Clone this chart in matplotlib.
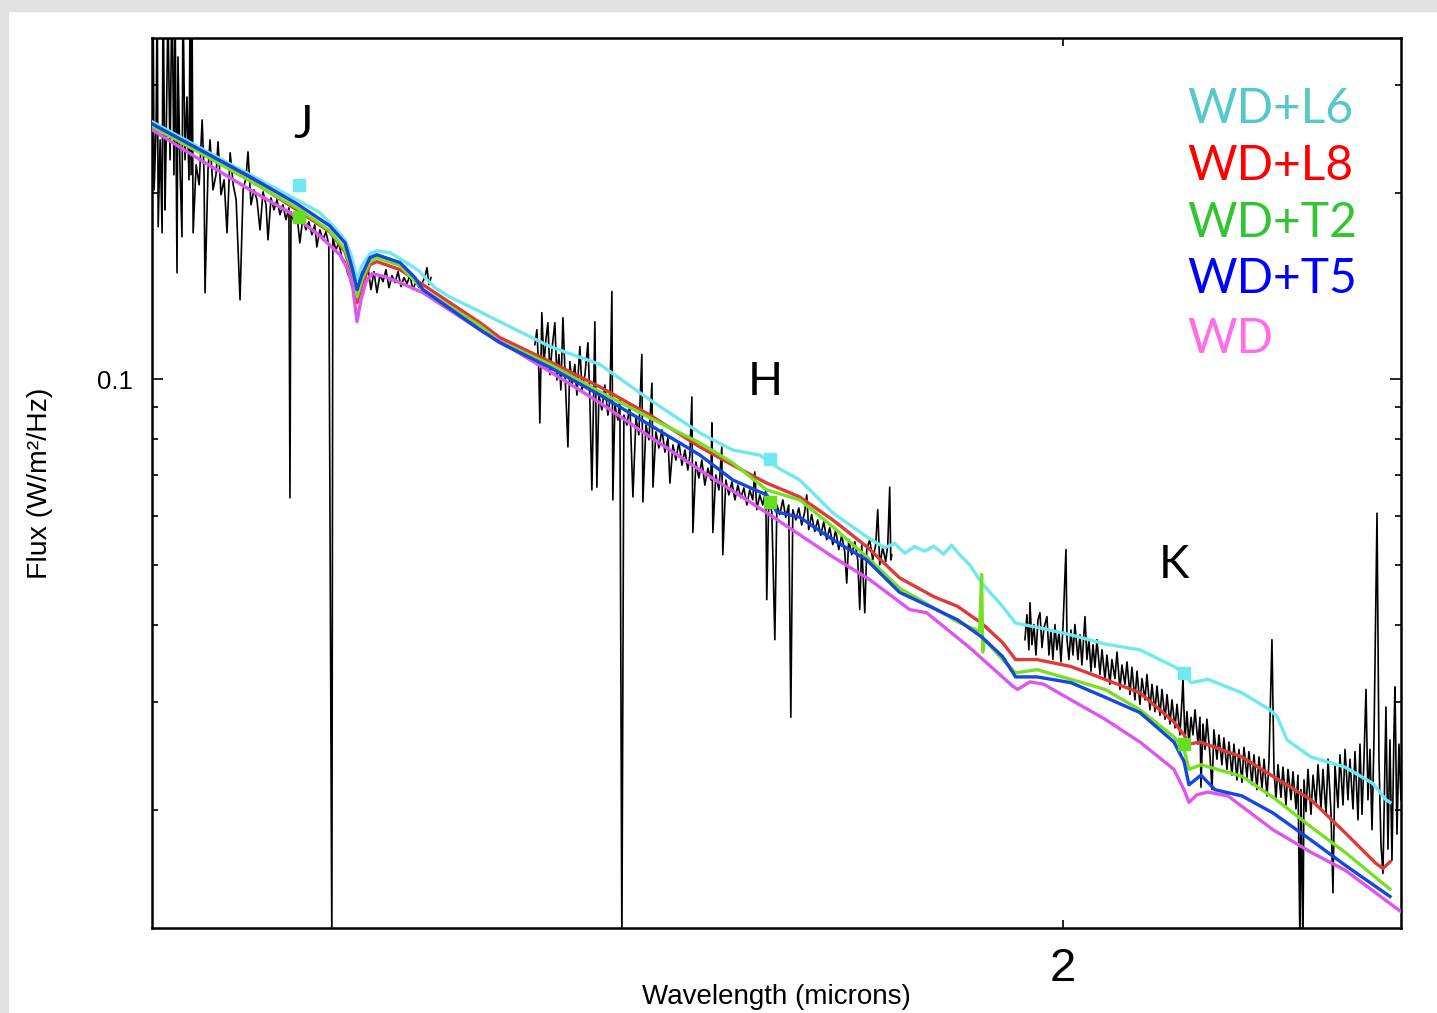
import matplotlib
matplotlib.use('Agg')
import matplotlib.pyplot as plt
from matplotlib.ticker import FixedLocator, NullLocator, NullFormatter
from matplotlib.patches import Rectangle

plt.rcParams['font.family'] = ['Liberation Sans', 'DejaVu Sans']
plt.rcParams['axes.linewidth'] = 1.8

# Observed spectrum, three pieces (J, H, K), wavelength in microns, flux in W/m^2/Hz (scaled)
obs_j_wave = [
    1.1254, 1.1261, 1.1268, 1.1282, 1.1290, 1.1297, 1.1311, 1.1325, 1.1332, 1.1346,
    1.1353, 1.1367, 1.1382, 1.1396, 1.1410, 1.1418, 1.1432, 1.1439, 1.1454, 1.1468,
    1.1475, 1.1490, 1.1504, 1.1519, 1.1527, 1.1534, 1.1541, 1.1549, 1.1571, 1.1593,
    1.1615, 1.1629, 1.1636, 1.1658, 1.1673, 1.1695, 1.1717, 1.1732, 1.1754, 1.1777,
    1.1799, 1.1822, 1.1845, 1.1867, 1.1896, 1.1919, 1.1941, 1.1956, 1.1979, 1.2001,
    1.2024, 1.2047, 1.2070, 1.2093, 1.2108, 1.2131, 1.2154, 1.2177, 1.2200, 1.2223,
    1.2246, 1.2269, 1.2277, 1.2285, 1.2308, 1.2331, 1.2354, 1.2377, 1.2401, 1.2424,
    1.2448, 1.2471, 1.2487, 1.2511, 1.2535, 1.2559, 1.2582, 1.2606, 1.2614, 1.2638,
    1.2662, 1.2686, 1.2711, 1.2735, 1.2759, 1.2792, 1.2824, 1.2848, 1.2873, 1.2897,
    1.2921, 1.2946, 1.2970, 1.2995, 1.3020, 1.3044, 1.3069, 1.3094, 1.3119, 1.3144,
    1.3168, 1.3193, 1.3218, 1.3243, 1.3268, 1.3293, 1.3319, 1.3344, 1.3369, 1.3386,
    1.3403, 1.3420]
obs_j_flux = [
    0.2352, 0.42, 0.2026, 0.2534, 0.42, 0.1765, 0.2441, 0.1726, 0.45, 0.1880,
    0.2352, 0.40, 0.2266, 0.44, 0.2143, 0.41, 0.1487, 0.3326, 0.2183, 0.1700,
    0.43, 0.2266, 0.2865, 0.2103, 0.42, 0.2143, 0.40, 0.1726, 0.2224, 0.2064,
    0.2630, 0.2143, 0.1380, 0.2183, 0.2441, 0.2026, 0.2143, 0.2423, 0.1989, 0.2103,
    0.1726, 0.2326, 0.2064, 0.1952, 0.1344, 0.2026, 0.2119, 0.2334, 0.1916, 0.2026,
    0.1952, 0.1745, 0.2011, 0.1916, 0.1681, 0.1966, 0.1880, 0.1952, 0.1846, 0.1916,
    0.1812, 0.1894, 0.0642, 0.1866, 0.1798, 0.1846, 0.1662, 0.1825, 0.1745, 0.1798,
    0.1713, 0.1778, 0.1637, 0.1745, 0.1681, 0.1732, 0.1650, 0.0120, 0.1694, 0.1620,
    0.1662, 0.1573, 0.1550, 0.1476, 0.1476, 0.1396, 0.1422, 0.1493, 0.1449, 0.1515,
    0.1396, 0.1493, 0.1380, 0.1476, 0.1438, 0.1504, 0.1406, 0.1471, 0.1433, 0.1493,
    0.1412, 0.1460, 0.1428, 0.1471, 0.1396, 0.1438, 0.1406, 0.1428, 0.1465, 0.1515,
    0.1422, 0.1460]

obs_h_wave = [
    1.4330, 1.4348, 1.4366, 1.4375, 1.4393, 1.4412, 1.4430, 1.4448, 1.4467, 1.4485,
    1.4512, 1.4531, 1.4549, 1.4567, 1.4586, 1.4604, 1.4632, 1.4650, 1.4669, 1.4696,
    1.4715, 1.4743, 1.4762, 1.4790, 1.4818, 1.4836, 1.4855, 1.4874, 1.4883, 1.4902,
    1.4921, 1.4949, 1.4977, 1.5006, 1.5025, 1.5044, 1.5053, 1.5072, 1.5101, 1.5120,
    1.5139, 1.5158, 1.5187, 1.5216, 1.5245, 1.5274, 1.5302, 1.5331, 1.5341, 1.5371,
    1.5400, 1.5429, 1.5439, 1.5468, 1.5497, 1.5527, 1.5556, 1.5586, 1.5605, 1.5635,
    1.5664, 1.5694, 1.5724, 1.5754, 1.5783, 1.5803, 1.5823, 1.5833, 1.5863, 1.5893,
    1.5923, 1.5953, 1.5984, 1.6014, 1.6024, 1.6034, 1.6064, 1.6095, 1.6125, 1.6135,
    1.6166, 1.6197, 1.6228, 1.6259, 1.6289, 1.6320, 1.6351, 1.6382, 1.6412, 1.6443,
    1.6464, 1.6485, 1.6516, 1.6547, 1.6579, 1.6589, 1.6610, 1.6642, 1.6674, 1.6695,
    1.6726, 1.6758, 1.6789, 1.6821, 1.6843, 1.6864, 1.6896, 1.6928, 1.6959, 1.6991,
    1.7013, 1.7034, 1.7066, 1.7099, 1.7131, 1.7164, 1.7197, 1.7229, 1.7262, 1.7295,
    1.7327, 1.7360, 1.7393, 1.7426, 1.7448, 1.7470, 1.7503, 1.7537, 1.7570, 1.7592,
    1.7614, 1.7648, 1.7670, 1.7703, 1.7737, 1.7770, 1.7793, 1.7815, 1.7849, 1.7883,
    1.7906, 1.7928, 1.7940, 1.7951]
obs_h_flux = [
    0.1137, 0.1202, 0.1028, 0.0849, 0.1281, 0.1056, 0.1158, 0.1234, 0.1016, 0.1116,
    0.1234, 0.0996, 0.1096, 0.0960, 0.1257, 0.1036, 0.0776, 0.1067, 0.0978, 0.1056,
    0.0942, 0.1129, 0.0960, 0.1016, 0.1145, 0.0925, 0.0661, 0.0996, 0.1238, 0.0668,
    0.0942, 0.0891, 0.0978, 0.0874, 0.0925, 0.1386, 0.0637, 0.0908, 0.0858, 0.0925,
    0.0120, 0.0874, 0.0842, 0.0908, 0.0644, 0.0865, 0.0812, 0.1096, 0.0632, 0.0842,
    0.0797, 0.0985, 0.0668, 0.0821, 0.0773, 0.0827, 0.0761, 0.0803, 0.0678, 0.0782,
    0.0739, 0.0791, 0.0725, 0.0767, 0.0712, 0.0753, 0.0935, 0.0564, 0.0734, 0.0691,
    0.0739, 0.0673, 0.0717, 0.0686, 0.0849, 0.0564, 0.0699, 0.0661, 0.0776, 0.0519,
    0.0686, 0.0649, 0.0681, 0.0637, 0.0673, 0.0642, 0.0666, 0.0625, 0.0661, 0.0637,
    0.0707, 0.0614, 0.0649, 0.0625, 0.0661, 0.0439, 0.0637, 0.0609, 0.0378, 0.0625,
    0.0603, 0.0637, 0.0597, 0.0625, 0.0283, 0.0614, 0.0591, 0.0618, 0.0580, 0.0609,
    0.0649, 0.0570, 0.0603, 0.0566, 0.0591, 0.0558, 0.0587, 0.0549, 0.0574, 0.0539,
    0.0570, 0.0529, 0.0558, 0.0525, 0.0467, 0.0549, 0.0519, 0.0545, 0.0509, 0.0423,
    0.0539, 0.0418, 0.0529, 0.0549, 0.0509, 0.0539, 0.0614, 0.0500, 0.0533, 0.0506,
    0.0539, 0.0668, 0.0509, 0.0519]

obs_k_wave = [
    1.9526, 1.9550, 1.9575, 1.9588, 1.9612, 1.9637, 1.9662, 1.9687, 1.9712, 1.9737,
    1.9762, 1.9799, 1.9824, 1.9849, 1.9874, 1.9899, 1.9924, 1.9950, 1.9975, 2.0000,
    2.0038, 2.0051, 2.0076, 2.0101, 2.0127, 2.0152, 2.0190, 2.0216, 2.0241, 2.0280,
    2.0305, 2.0331, 2.0357, 2.0383, 2.0408, 2.0434, 2.0473, 2.0499, 2.0538, 2.0563,
    2.0602, 2.0628, 2.0667, 2.0694, 2.0733, 2.0759, 2.0798, 2.0825, 2.0864, 2.0890,
    2.0930, 2.0957, 2.0996, 2.1023, 2.1063, 2.1089, 2.1129, 2.1156, 2.1196, 2.1223,
    2.1263, 2.1290, 2.1331, 2.1358, 2.1398, 2.1425, 2.1466, 2.1493, 2.1533, 2.1561,
    2.1574, 2.1602, 2.1629, 2.1656, 2.1684, 2.1711, 2.1739, 2.1780, 2.1807, 2.1821,
    2.1848, 2.1876, 2.1903, 2.1945, 2.1973, 2.2000, 2.2042, 2.2070, 2.2111, 2.2139,
    2.2182, 2.2210, 2.2252, 2.2280, 2.2322, 2.2350, 2.2393, 2.2421, 2.2464, 2.2492,
    2.2535, 2.2563, 2.2606, 2.2635, 2.2678, 2.2707, 2.2750, 2.2778, 2.2821, 2.2850,
    2.2879, 2.2908, 2.2951, 2.2980, 2.3024, 2.3053, 2.3097, 2.3126, 2.3170, 2.3199,
    2.3228, 2.3243, 2.3272, 2.3287, 2.3316, 2.3346, 2.3390, 2.3420, 2.3464, 2.3494,
    2.3538, 2.3568, 2.3613, 2.3643, 2.3687, 2.3717, 2.3747, 2.3792, 2.3822, 2.3868,
    2.3898, 2.3943, 2.3973, 2.4019, 2.4049, 2.4095, 2.4125, 2.4156, 2.4186, 2.4217,
    2.4247, 2.4278, 2.4309, 2.4339, 2.4386, 2.4416, 2.4447, 2.4478, 2.4509, 2.4524,
    2.4555, 2.4586, 2.4617, 2.4649, 2.4664, 2.4695, 2.4726, 2.4758]
obs_k_flux = [
    0.0378, 0.0415, 0.0364, 0.0434, 0.0371, 0.0400, 0.0357, 0.0407, 0.0418, 0.0367,
    0.0395, 0.0412, 0.0357, 0.0392, 0.0351, 0.0400, 0.0364, 0.0389, 0.0348, 0.0395,
    0.0529, 0.0378, 0.0351, 0.0392, 0.0357, 0.0400, 0.0351, 0.0385, 0.0344, 0.0412,
    0.0351, 0.0378, 0.0336, 0.0371, 0.0341, 0.0378, 0.0332, 0.0364, 0.0326, 0.0357,
    0.0320, 0.0351, 0.0327, 0.0361, 0.0314, 0.0344, 0.0320, 0.0348, 0.0308, 0.0341,
    0.0302, 0.0336, 0.0297, 0.0327, 0.0302, 0.0332, 0.0291, 0.0320, 0.0289, 0.0318,
    0.0285, 0.0314, 0.0281, 0.0308, 0.0276, 0.0302, 0.0272, 0.0297, 0.0265, 0.0302,
    0.0326, 0.0260, 0.0289, 0.0256, 0.0283, 0.0265, 0.0291, 0.0256, 0.0283, 0.0218,
    0.0276, 0.0251, 0.0281, 0.0246, 0.0216, 0.0270, 0.0242, 0.0265, 0.0237, 0.0262,
    0.0233, 0.0258, 0.0228, 0.0256, 0.0224, 0.0251, 0.0222, 0.0253, 0.0226, 0.0249,
    0.0220, 0.0246, 0.0216, 0.0244, 0.0217, 0.0242, 0.0211, 0.0240, 0.0378, 0.0233,
    0.0208, 0.0237, 0.0210, 0.0235, 0.0204, 0.0233, 0.0208, 0.0231, 0.0201, 0.0228,
    0.0120, 0.0216, 0.0120, 0.0224, 0.0199, 0.0233, 0.0197, 0.0228, 0.0204, 0.0237,
    0.0201, 0.0233, 0.0197, 0.0242, 0.0199, 0.0147, 0.0237, 0.0202, 0.0246, 0.0204,
    0.0251, 0.0208, 0.0242, 0.0201, 0.0249, 0.0193, 0.0256, 0.0197, 0.0242, 0.0314,
    0.0208, 0.0251, 0.0186, 0.0260, 0.0606, 0.0242, 0.0176, 0.0158, 0.0242, 0.0294,
    0.0173, 0.0260, 0.0166, 0.0270, 0.0317, 0.0183, 0.0256, 0.0208]

# Model spectra
wd_wave = [1.1254, 1.1600, 1.1971, 1.2277, 1.2511, 1.2670, 1.2735, 1.2776, 1.2808, 1.2840,
           1.2881, 1.2930, 1.3036, 1.3160, 1.3352, 1.3841, 1.4467, 1.4930, 1.5410, 1.5903,
           1.6589, 1.7295, 1.7703, 1.8155, 1.8351, 1.8856, 1.9374, 1.9436, 1.9588, 1.9762,
           2.0101, 2.0538, 2.0996, 2.1452, 2.1588, 2.1656, 2.1766, 2.1917, 2.2196, 2.2836,
           2.3390, 2.3898, 2.4758]
wd_flux = [0.2534, 0.2266, 0.2026, 0.1860, 0.1706, 0.1590, 0.1504, 0.1396, 0.1239, 0.1344,
           0.1438, 0.1482, 0.1465, 0.1433, 0.1380, 0.1202, 0.1028, 0.0915, 0.0806, 0.0712,
           0.0607, 0.0515, 0.0473, 0.0423, 0.0418, 0.0367, 0.0318, 0.0314, 0.0323, 0.0320,
           0.0302, 0.0281, 0.0258, 0.0233, 0.0216, 0.0206, 0.0212, 0.0214, 0.0211, 0.0186,
           0.0171, 0.0160, 0.0137]

l6_wave = [1.1254, 1.1600, 1.1971, 1.2331, 1.2511, 1.2630, 1.2711, 1.2768, 1.2808, 1.2848,
           1.2913, 1.2970, 1.3077, 1.3201, 1.3327, 1.3386, 1.3454, 1.3581, 1.3841, 1.4017,
           1.4467, 1.4930, 1.5410, 1.5903, 1.6238, 1.6516, 1.6621, 1.6726, 1.6938, 1.7295,
           1.7670, 1.7871, 1.7985, 1.8098, 1.8212, 1.8328, 1.8432, 1.8549, 1.8643, 1.8714,
           1.8856, 1.8999, 1.9252, 1.9411, 1.9675, 2.0101, 2.0538, 2.0996, 2.1452, 2.1588,
           2.1684, 2.1917, 2.2393, 2.2792, 2.2894, 2.3039, 2.3390, 2.3898, 2.4324, 2.4524,
           2.4586]
l6_flux = [0.2611, 0.2369, 0.2143, 0.1952, 0.1860, 0.1758, 0.1681, 0.1573, 0.1449, 0.1527,
           0.1596, 0.1614, 0.1602, 0.1550, 0.1493, 0.1449, 0.1406, 0.1358, 0.1286, 0.1238,
           0.1129, 0.1056, 0.0925, 0.0818, 0.0767, 0.0753, 0.0733, 0.0715, 0.0686, 0.0607,
           0.0555, 0.0533, 0.0541, 0.0522, 0.0535, 0.0526, 0.0536, 0.0520, 0.0538, 0.0523,
           0.0500, 0.0467, 0.0428, 0.0402, 0.0396, 0.0385, 0.0372, 0.0364, 0.0342, 0.0334,
           0.0322, 0.0326, 0.0310, 0.0291, 0.0284, 0.0260, 0.0244, 0.0235, 0.0221, 0.0208,
           0.0206]

l8_wave = [1.1254, 1.1600, 1.1971, 1.2331, 1.2590, 1.2711, 1.2768, 1.2808, 1.2848, 1.2913,
           1.2970, 1.3160, 1.3352, 1.3841, 1.4017, 1.4467, 1.4930, 1.5410, 1.5903, 1.6238,
           1.6589, 1.6938, 1.7295, 1.7670, 1.8041, 1.8432, 1.8714, 1.8999, 1.9252, 1.9411,
           1.9675, 2.0101, 2.0538, 2.0996, 2.1452, 2.1588, 2.1656, 2.1807, 2.2393, 2.2836,
           2.3390, 2.3898, 2.4370, 2.4478, 2.4586]
l8_flux = [0.2572, 0.2334, 0.2103, 0.1880, 0.1732, 0.1608, 0.1476, 0.1329, 0.1422, 0.1532,
           0.1550, 0.1504, 0.1422, 0.1234, 0.1167, 0.1067, 0.0971, 0.0874, 0.0776, 0.0725,
           0.0678, 0.0644, 0.0591, 0.0535, 0.0476, 0.0444, 0.0428, 0.0402, 0.0374, 0.0351,
           0.0351, 0.0342, 0.0326, 0.0310, 0.0278, 0.0265, 0.0256, 0.0258, 0.0244, 0.0227,
           0.0208, 0.0184, 0.0164, 0.0161, 0.0165]

t2_wave = [1.1254, 1.1600, 1.1971, 1.2331, 1.2590, 1.2711, 1.2768, 1.2808, 1.2848, 1.2913,
           1.2970, 1.3160, 1.3352, 1.3841, 1.4017, 1.4467, 1.4930, 1.5410, 1.5903, 1.6238,
           1.6589, 1.6938, 1.7295, 1.7670, 1.8041, 1.8432, 1.8714, 1.8975, 1.8999, 1.9012,
           1.9036, 1.9252, 1.9411, 1.9675, 2.0101, 2.0538, 2.0996, 2.1452, 2.1588, 2.1656,
           2.1821, 2.2393, 2.2836, 2.3390, 2.3898, 2.4586]
t2_flux = [0.2563, 0.2326, 0.2095, 0.1894, 0.1739, 0.1620, 0.1504, 0.1359, 0.1449, 0.1550,
           0.1573, 0.1527, 0.1396, 0.1220, 0.1150, 0.1056, 0.0953, 0.0865, 0.0788, 0.0731,
           0.0661, 0.0637, 0.0576, 0.0515, 0.0458, 0.0426, 0.0404, 0.0390, 0.0482, 0.0361,
           0.0378, 0.0351, 0.0334, 0.0338, 0.0326, 0.0314, 0.0291, 0.0263, 0.0251, 0.0233,
           0.0237, 0.0227, 0.0210, 0.0188, 0.0171, 0.0149]

t5_wave = [1.1254, 1.1600, 1.1971, 1.2331, 1.2590, 1.2711, 1.2768, 1.2808, 1.2848, 1.2913,
           1.2970, 1.3160, 1.3285, 1.3352, 1.3841, 1.4017, 1.4467, 1.4930, 1.5410, 1.5903,
           1.6238, 1.6516, 1.6589, 1.6695, 1.6938, 1.7295, 1.7670, 1.8041, 1.8432, 1.8714,
           1.8999, 1.9252, 1.9411, 1.9675, 2.0101, 2.0538, 2.0996, 2.1452, 2.1588, 2.1656,
           2.1821, 2.2014, 2.2393, 2.2836, 2.3390, 2.3898, 2.4586]
t5_flux = [0.2591, 0.2352, 0.2127, 0.1923, 0.1771, 0.1662, 0.1515, 0.1396, 0.1476, 0.1573,
           0.1590, 0.1544, 0.1460, 0.1396, 0.1202, 0.1145, 0.1044, 0.0942, 0.0842, 0.0753,
           0.0686, 0.0656, 0.0649, 0.0609, 0.0597, 0.0549, 0.0509, 0.0451, 0.0425, 0.0407,
           0.0382, 0.0355, 0.0329, 0.0329, 0.0322, 0.0305, 0.0288, 0.0258, 0.0240, 0.0220,
           0.0228, 0.0216, 0.0211, 0.0198, 0.0179, 0.0163, 0.0145]

# JHK photometry
phot_wave = [1.235, 1.662, 2.159]
phot_l6 = [0.2064, 0.0742, 0.0334]
phot_t2 = [0.1832, 0.0632, 0.0256]

band_names = ['J', 'H', 'K']
legend_names = ['WD+L6', 'WD+L8', 'WD+T2', 'WD+T5', 'WD']
legend_colors = ['#55c8c8', '#ff0000', '#33c433', '#0000ff', '#ff6ee6']

fig = plt.figure(figsize=(14.37, 10.13), dpi=100)
fig.patches.append(Rectangle((0, 1 - 11 / 1013), 1, 11 / 1013, transform=fig.transFigure,
                             color='#e2e2e2', zorder=0))
fig.patches.append(Rectangle((0, 0), 8 / 1437, 1, transform=fig.transFigure,
                             color='#e2e2e2', zorder=0))
ax = fig.add_axes([152 / 1437, 1 - 928 / 1013, 1249 / 1437, 890 / 1013])

for w, f in [(obs_j_wave, obs_j_flux), (obs_h_wave, obs_h_flux), (obs_k_wave, obs_k_flux)]:
    ax.plot(w, f, color='black', lw=1.2, zorder=2)

ax.plot(l6_wave, l6_flux, color='#6fe9ef', lw=2.4, zorder=3)
ax.plot(l8_wave, l8_flux, color='#dd3b36', lw=2.4, zorder=3)
ax.plot(t2_wave, t2_flux, color='#77e022', lw=2.4, zorder=3)
ax.plot(t5_wave, t5_flux, color='#1446e0', lw=2.4, zorder=4)
ax.plot(wd_wave, wd_flux, color='#dd55ee', lw=2.4, zorder=3)

ax.plot(phot_wave, phot_l6, 's', color='#6fe9ef', ms=9, zorder=5)
ax.plot(phot_wave, phot_t2, 's', color='#66dd22', ms=9, zorder=5)

ax.set_xscale('log')
ax.set_yscale('log')
ax.set_xlim(1.1253, 2.4758)
ax.set_ylim(0.01289, 0.357)

ax.xaxis.set_major_locator(FixedLocator([2]))
ax.xaxis.set_major_formatter(plt.FixedFormatter(['2']))
ax.xaxis.set_minor_locator(NullLocator())
ax.yaxis.set_major_locator(FixedLocator([0.1]))
ax.yaxis.set_major_formatter(plt.FixedFormatter(['0.1']))
ax.yaxis.set_minor_locator(FixedLocator([0.02, 0.03, 0.04, 0.05, 0.06, 0.07, 0.08, 0.09, 0.2, 0.3]))
ax.yaxis.set_minor_formatter(NullFormatter())

ax.tick_params(axis='x', which='major', direction='in', top=True, bottom=True,
               length=6, width=1.2, labelsize=34, pad=14)
ax.tick_params(axis='y', which='major', direction='in', left=True, right=True,
               length=8, width=1.2, labelsize=18.5, pad=14)
ax.tick_params(axis='y', which='minor', direction='in', left=True, right=True,
               length=4, width=1.2)

ax.set_xlabel('Wavelength (microns)', fontsize=20, va='center')
ax.xaxis.set_label_coords(0.5, -0.0775)
ax.set_ylabel('Flux (W/m²/Hz)', fontsize=20.5, va='center')
ax.yaxis.set_label_coords(-0.0897, 0.5)

# band labels
band_pos = [(0.1209, 0.8876), (0.4908, 0.5989), (0.8183, 0.3933)]
for name, (bx, by) in zip(band_names, band_pos):
    ax.text(bx, by, name, transform=ax.transAxes, ha='center', va='baseline',
            fontsize=33, family=['Lato', 'DejaVu Sans'], color='black')

# coloured legend labels
legend_y = [0.9045, 0.8404, 0.7764, 0.7135, 0.6461]
for name, col, ly in zip(legend_names, legend_colors, legend_y):
    ax.text(0.8287, ly, name, transform=ax.transAxes, ha='left', va='baseline',
            fontsize=34.5, family=['Lato', 'DejaVu Sans'], color=col)

fig.savefig('out.png', dpi=100)
